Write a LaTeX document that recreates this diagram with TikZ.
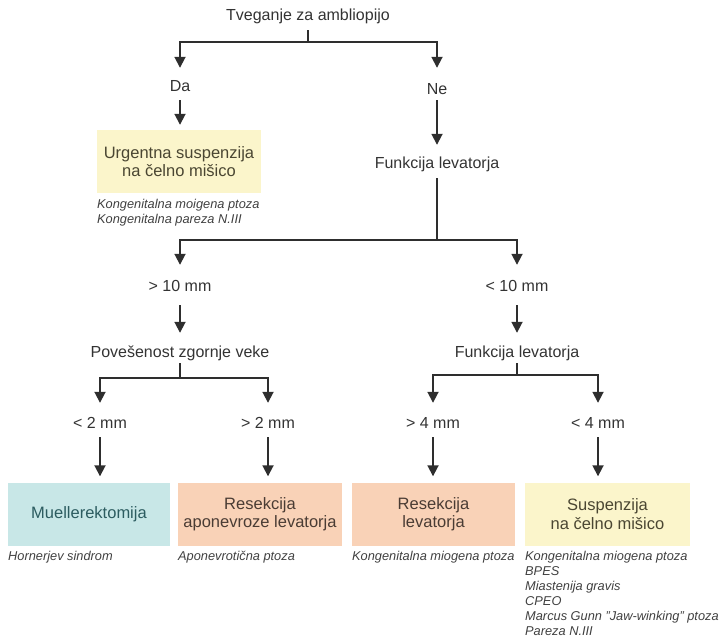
\documentclass[tikz,border=0pt]{standalone}
\usepackage{fontspec}
\setmainfont{Liberation Sans}
\usetikzlibrary{arrows.meta}
\definecolor{linec}{HTML}{2E2E2E}
\definecolor{txtc}{HTML}{333333}
\definecolor{notec}{HTML}{404040}
\definecolor{yelfill}{HTML}{FBF5CB}
\definecolor{yeltxt}{HTML}{4A4632}
\definecolor{tealfill}{HTML}{C8E7E7}
\definecolor{tealtxt}{HTML}{2C5C60}
\definecolor{salfill}{HTML}{F9D2B7}
\definecolor{saltxt}{HTML}{4A3C34}
\tikzset{
  lbl/.style={font=\fontsize{16}{19}\selectfont, inner sep=0pt, text height=11.5pt, text depth=3.5pt, anchor=base, text=txtc},
  boxc/.style={minimum height=63pt, inner sep=0pt, align=center, font=\fontsize{16.5}{18.5}\selectfont},
  ybox/.style={boxc, fill=yelfill, text=yeltxt},
  tbox/.style={boxc, fill=tealfill, text=tealtxt},
  sbox/.style={boxc, fill=salfill, text=saltxt},
  note/.style={font=\fontsize{12.8}{15}\selectfont\itshape, align=left, inner sep=0pt, anchor=north west, text=notec},
  ln/.style={draw=linec, line width=1.8pt},
  arr/.style={ln, -{Triangle[width=11pt,length=11pt]}}
}
\begin{document}
\begin{tikzpicture}[x=1pt,y=-1pt]
\useasboundingbox (0,0) rectangle (727,641);

% labels
\node[lbl] (title) at (308,20) {Tveganje za ambliopijo};
\node[lbl] (da) at (180,91) {Da};
\node[lbl] (ne) at (437,94) {Ne};
\node[lbl] (funk1) at (437,168) {Funkcija levatorja};
\node[lbl] (gt10) at (180,291) {> 10 mm};
\node[lbl] (lt10) at (517,291) {< 10 mm};
\node[lbl] (pov) at (180,357) {Povešenost zgornje veke};
\node[lbl] (funk2) at (517,357) {Funkcija levatorja};
\node[lbl] (lt2) at (100,428) {< 2 mm};
\node[lbl] (gt2) at (268,428) {> 2 mm};
\node[lbl] (gt4) at (433,428) {> 4 mm};
\node[lbl] (lt4) at (598,428) {< 4 mm};

% boxes
\node[ybox, minimum width=164pt] (urg) at (179,161.5) {Urgentna suspenzija\\na čelno mišico};
\node[tbox, minimum width=162pt] (b1) at (89,514) {Muellerektomija};
\node[sbox, minimum width=164pt] (b2) at (260,514) {Resekcija\\aponevroze levatorja};
\node[sbox, minimum width=163pt] (b3) at (433.5,514) {Resekcija\\levatorja};
\node[ybox, minimum width=165pt] (b4) at (607.5,514) {Suspenzija\\na čelno mišico};

% notes
\node[note] (nurg) at (97,199) {Kongenitalna moigena ptoza\\Kongenitalna pareza N.III};
\node[note] (n1) at (8,551) {Hornerjev sindrom};
\node[note] (n2) at (178,551) {Aponevrotična ptoza};
\node[note] (n3) at (352,551) {Kongenitalna miogena ptoza};
\node[note] (n4) at (525,551) {Kongenitalna miogena ptoza\\BPES\\Miastenija gravis\\CPEO\\Marcus Gunn ''Jaw-winking'' ptoza\\Pareza N.III};

% fork points
\coordinate (f1) at (308,42);
\coordinate (f2) at (437,240);
\coordinate (f3) at (180,378);
\coordinate (f4) at (517,375);

% connectors
\draw[ln, shorten <=6.5pt] (title.south) -- (f1);
\draw[arr, shorten >=11.5pt] (f1) -| (da.north);
\draw[arr, shorten >=14.5pt] (f1) -| (ne.north);
\draw[arr, shorten <=5.5pt, shorten >=5pt] (da.south) -- (da.south |- urg.north);
\draw[arr, shorten <=2.5pt, shorten >=11.5pt] (ne.south) -- (funk1.north);
\draw[ln, shorten <=6.5pt] (funk1.south) -- (f2);
\draw[arr, shorten >=14.5pt] (f2) -| (gt10.north);
\draw[arr, shorten >=14.5pt] (f2) -| (lt10.north);
\draw[arr, shorten <=10.5pt, shorten >=12.5pt] (gt10.south) -- (pov.north);
\draw[arr, shorten <=10.5pt, shorten >=12.5pt] (lt10.south) -- (funk2.north);
\draw[ln, shorten <=2.5pt] (pov.south) -- (f3);
\draw[ln, shorten <=2.5pt] (funk2.south) -- (f4);
\draw[arr, shorten >=13.5pt] (f3) -| (lt2.north);
\draw[arr, shorten >=13.5pt] (f3) -| (gt2.north);
\draw[arr, shorten >=13.5pt] (f4) -| (gt4.north);
\draw[arr, shorten >=13.5pt] (f4) -| (lt4.north);
\draw[arr, shorten <=5.5pt, shorten >=6pt] (lt2.south) -- (lt2.south |- b1.north);
\draw[arr, shorten <=5.5pt, shorten >=6pt] (gt2.south) -- (gt2.south |- b2.north);
\draw[arr, shorten <=5.5pt, shorten >=6pt] (gt4.south) -- (gt4.south |- b3.north);
\draw[arr, shorten <=5.5pt, shorten >=6pt] (lt4.south) -- (lt4.south |- b4.north);
\end{tikzpicture}
\end{document}
